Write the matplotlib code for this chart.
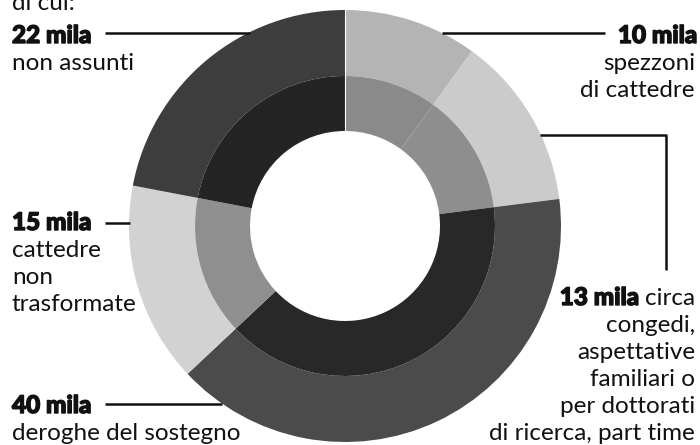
import matplotlib
matplotlib.use("Agg")
import matplotlib.pyplot as plt
import matplotlib.patheffects as pe

# Data (thousands), clockwise from 12 o'clock
categories = ["spezzoni di cattedre", "congedi, aspettative", "deroghe del sostegno",
              "cattedre non trasformate", "non assunti"]
values = [10, 13, 40, 15, 22]
value_labels = ["10 mila", "13 mila", "40 mila", "15 mila", "22 mila"]
outer_colors = ["#b4b4b4", "#cbcbcb", "#4b4b4b", "#d2d2d2", "#3d3d3d"]
inner_colors = ["#8a8a8a", "#8e8e8e", "#282828", "#8f8f8f", "#242424"]

W, H = 700, 445
fig = plt.figure(figsize=(W / 100, H / 100), dpi=100)
ax = fig.add_axes([0, 0, 1, 1])

cx, cy_px = 345, 226
R_out, R_mid, R_in = 216, 150, 95

def Y(px):
    return H - px

ax.pie(values, colors=outer_colors, radius=R_out, center=(cx, Y(cy_px)),
       startangle=90, counterclock=False,
       wedgeprops=dict(width=R_out - R_mid, linewidth=0))
ax.pie(values, colors=inner_colors, radius=R_mid, center=(cx, Y(cy_px)),
       startangle=90, counterclock=False,
       wedgeprops=dict(width=R_mid - R_in, linewidth=0))
ax.plot([cx, cx], [Y(cy_px - R_out), Y(cy_px - R_in)], color="white", lw=0.8)

ax.set_xlim(0, W)
ax.set_ylim(0, H)
ax.set_aspect("equal")
ax.axis("off")

FAM = ["Lato", "DejaVu Sans"]
LS = 27
heavy = [pe.withStroke(linewidth=1.0, foreground="#111111")]
reg = dict(family=FAM, fontsize=17.5, fontweight="normal", color="#111111", va="baseline")
bold = dict(family=FAM, fontsize=17.5, fontweight="black", color="#111111", va="baseline",
            path_effects=heavy)
lk = dict(color="#111111", lw=1.8, solid_capstyle="butt")

# Top left
ax.text(12, Y(10), "di cui:", ha="left", **reg)
ax.text(12, Y(43), value_labels[4], ha="left", **bold)
ax.text(12, Y(70), "non assunti", ha="left", **reg)
ax.plot([105, 250], [Y(33), Y(33)], **lk)

# Top right
ax.text(697, Y(43), value_labels[0], ha="right", **bold)
ax.text(695, Y(70), "spezzoni", ha="right", **reg)
ax.text(695, Y(97), "di cattedre", ha="right", **reg)
ax.plot([442, 605], [Y(33), Y(33)], **lk)

# Left middle
ax.text(12, Y(230), value_labels[3], ha="left", **bold)
for i, t in enumerate(["cattedre", "non", "trasformate"]):
    ax.text(12, Y(257 + i * LS), t, ha="left", **reg)
ax.plot([105, 130], [Y(223), Y(223)], **lk)

# Bottom left
ax.text(12, Y(413), value_labels[2], ha="left", **bold)
ax.text(12, Y(440), "deroghe del sostegno", ha="left", **reg)
ax.plot([105, 222], [Y(404), Y(404)], **lk)

# Right
fig.canvas.draw()
rend = fig.canvas.get_renderer()
circa = ax.text(695, Y(305), "circa", ha="right", **reg)
bb = circa.get_window_extent(renderer=rend)
ax.text(bb.x0 - 6, Y(305), value_labels[1], ha="right", **bold)
for i, t in enumerate(["congedi,", "aspettative", "familiari o", "per dottorati",
                       "di ricerca, part time"]):
    ax.text(695, Y(332 + i * LS), t, ha="right", **reg)
ax.plot([540, 666, 666], [Y(135), Y(135), Y(270)], **lk)

fig.savefig("out.png", dpi=100)
